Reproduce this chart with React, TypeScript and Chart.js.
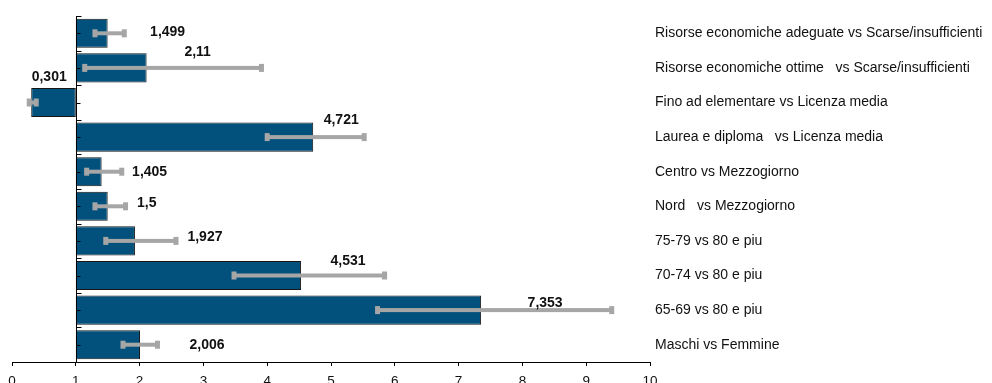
import React, { useEffect, useRef } from "react";
import { Chart, registerables } from "chart.js";

Chart.register(...registerables);

// Odds ratios with 95% confidence intervals, reference value 1
const categories = [
  "Risorse economiche adeguate vs Scarse/insufficienti",
  "Risorse economiche ottime   vs Scarse/insufficienti",
  "Fino ad elementare vs Licenza media",
  "Laurea e diploma   vs Licenza media",
  "Centro vs Mezzogiorno",
  "Nord   vs Mezzogiorno",
  "75-79 vs 80 e piu",
  "70-74 vs 80 e piu",
  "65-69 vs 80 e piu",
  "Maschi vs Femmine",
];
const oddsRatios = [1.499, 2.11, 0.301, 4.721, 1.405, 1.5, 1.927, 4.531, 7.353, 2.006];
const ciLower = [1.3, 1.14, 0.27, 4.0, 1.17, 1.3, 1.47, 3.48, 5.73, 1.74];
const ciUpper = [1.76, 3.91, 0.38, 5.52, 1.72, 1.78, 2.57, 5.84, 9.4, 2.28];
const xTicks = [0, 1, 2, 3, 4, 5, 6, 7, 8, 9, 10];
const REFERENCE = 1;

// Pixel offsets of each value label from the bar end / bar centre
const labelOffsets: [number, number][] = [
  [60, -1], [51, -16], [18, -25], [28, -17], [48, 0],
  [39, -3], [70, -4], [47, -14], [64, -7], [67, 0],
];

const FONT = '"Liberation Sans", Arial, Helvetica, sans-serif';
const BAR_COLOR = "#02517D";
const CI_COLOR = "#A6A6A6";

const overlay = {
  id: "overlay",
  afterDatasetsDraw(chart: any) {
    const { ctx, chartArea, scales } = chart;
    const xs = scales.x;
    const ys = scales.y;
    ctx.save();

    // vertical axis at the reference value
    const x1 = Math.round(xs.getPixelForValue(REFERENCE)) + 0.5;
    ctx.strokeStyle = "#000";
    ctx.lineWidth = 1;
    ctx.beginPath();
    ctx.moveTo(x1, chartArea.top);
    ctx.lineTo(x1, chartArea.bottom);
    const n = categories.length;
    const step = (chartArea.bottom - chartArea.top) / n;
    for (let i = 0; i <= n; i++) {
      const yb = Math.round(chartArea.top + i * step) + 0.5;
      ctx.moveTo(x1, yb);
      ctx.lineTo(x1 + 5, yb);
      if (i < n) {
        const yc = Math.round(ys.getPixelForValue(i)) + 0.5;
        ctx.moveTo(x1, yc);
        ctx.lineTo(x1 + 4, yc);
      }
    }
    ctx.stroke();

    // confidence interval bars
    oddsRatios.forEach((_, i) => {
      const y = ys.getPixelForValue(i);
      const xl = xs.getPixelForValue(ciLower[i]);
      const xh = xs.getPixelForValue(ciUpper[i]);
      ctx.fillStyle = CI_COLOR;
      ctx.fillRect(xl, y - 2, xh - xl, 4);
      ctx.fillRect(xl - 2.5, y - 4, 5, 8);
      ctx.fillRect(xh - 2.5, y - 4, 5, 8);
    });

    // value labels
    ctx.fillStyle = "#111";
    ctx.font = `bold 14px ${FONT}`;
    ctx.textAlign = "center";
    ctx.textBaseline = "middle";
    oddsRatios.forEach((v, i) => {
      const [dx, dy] = labelOffsets[i];
      const text = String(v).replace(".", ",");
      ctx.fillText(text, xs.getPixelForValue(v) + dx, ys.getPixelForValue(i) + dy);
    });
    ctx.restore();
  },
};

export default function App() {
  const canvasRef = useRef<HTMLCanvasElement | null>(null);

  useEffect(() => {
    if (!canvasRef.current) return;
    const chart = new Chart(canvasRef.current, {
      type: "bar",
      data: {
        labels: categories,
        datasets: [
          {
            data: oddsRatios.map((v) => [REFERENCE, v]) as any,
            backgroundColor: BAR_COLOR,
            borderColor: "#151515",
            borderWidth: 1,
            borderSkipped: false,
            barPercentage: 0.84,
            categoryPercentage: 1,
          },
        ],
      },
      options: {
        indexAxis: "y",
        animation: false,
        responsive: true,
        maintainAspectRatio: false,
        layout: { padding: { left: 12, top: 16, right: 0, bottom: 0 } },
        plugins: {
          legend: { display: false },
          tooltip: { enabled: false },
        },
        scales: {
          x: {
            type: "linear",
            min: xTicks[0],
            max: xTicks[xTicks.length - 1],
            afterBuildTicks: (scale: any) => {
              scale.ticks = xTicks.map((v) => ({ value: v }));
            },
            afterFit: (scale: any) => {
              scale.height = 21;
            },
            grid: {
              drawOnChartArea: false,
              drawTicks: true,
              tickLength: 4,
              tickColor: "#000",
            },
            border: { display: true, color: "#000", width: 1 },
            ticks: {
              padding: 7,
              color: "#111",
              font: { family: FONT, size: 13.5 },
              maxRotation: 0,
              autoSkip: false,
            },
          },
          y: {
            type: "category",
            position: "right",
            afterFit: (scale: any) => {
              scale.width = 342;
            },
            grid: { display: false, drawTicks: false },
            border: { display: false },
            ticks: {
              padding: 5,
              color: "#111",
              font: { family: FONT, size: 14 },
              autoSkip: false,
            },
          },
        },
      },
      plugins: [overlay],
    });
    return () => chart.destroy();
  }, []);

  return (
    <div style={{ position: "absolute", left: 0, top: 0, width: 992, height: 383, background: "#fff" }}>
      <canvas ref={canvasRef} />
    </div>
  );
}
